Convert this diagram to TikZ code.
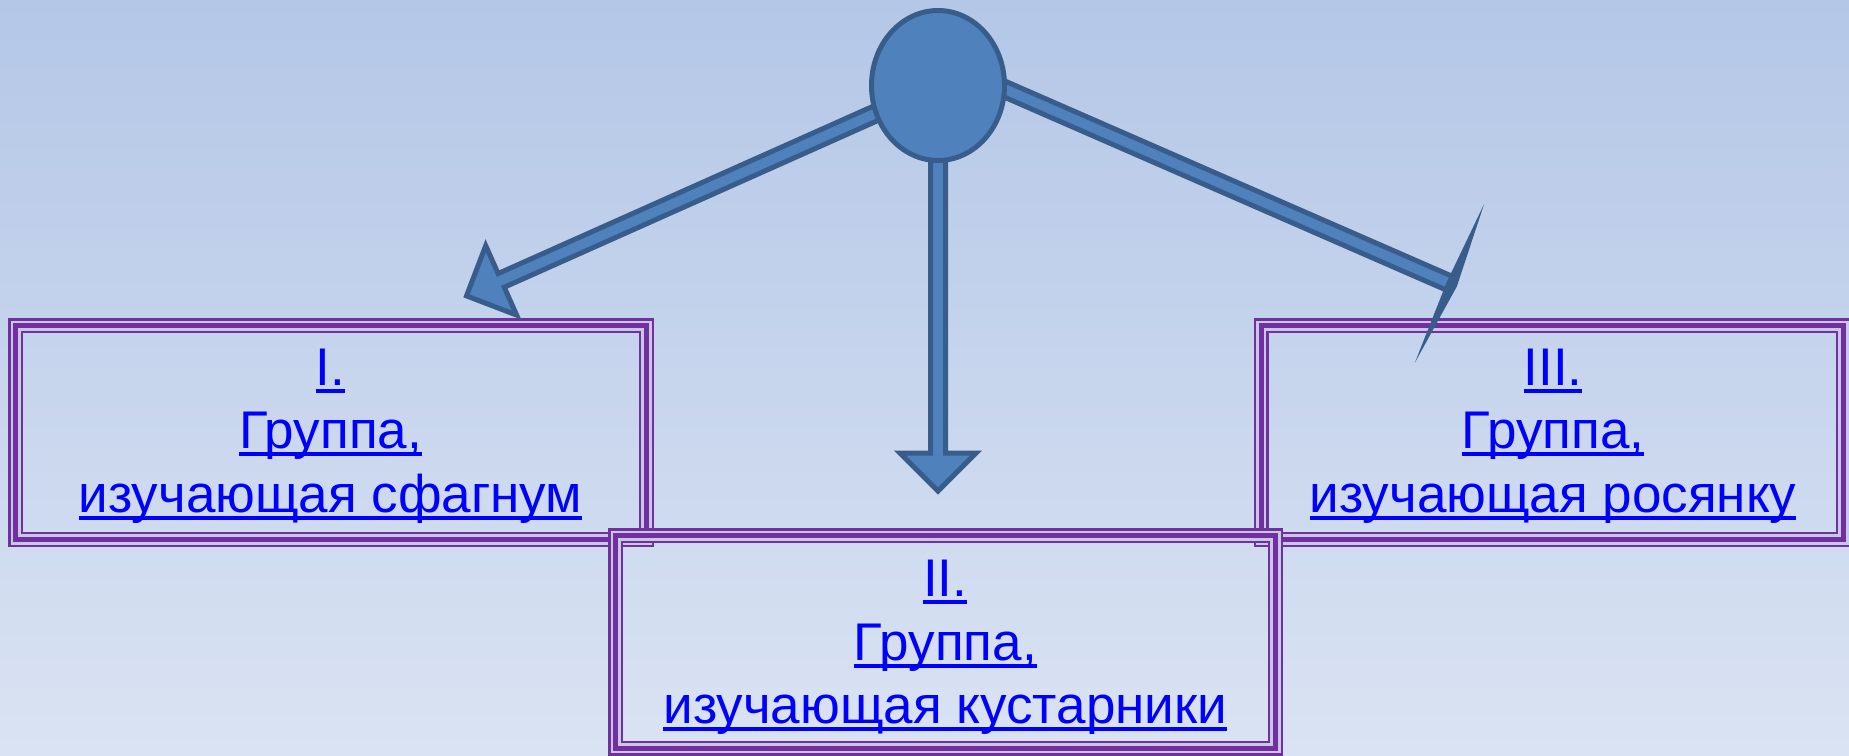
\documentclass[tikz,border=0pt]{standalone}
\usepackage{fontspec}
\setmainfont{Liberation Sans}
\usetikzlibrary{calc,shapes.geometric}
\definecolor{bgtop}{RGB}{180,199,231}
\definecolor{bgbot}{RGB}{218,227,243}
\definecolor{accfill}{RGB}{79,129,189}
\definecolor{accline}{RGB}{56,93,138}
\definecolor{frm}{RGB}{112,48,160}
\definecolor{frmgap}{RGB}{201,198,230}
\definecolor{lnk}{RGB}{0,0,255}
\newcommand\ulx[1]{\setbox0=\hbox{#1}\rlap{\raisebox{-7.5pt}{\rule{\wd0}{3.9pt}}}\box0}
\newcommand\threelines[3]{\vtop{\baselineskip=63.5pt\halign{\hfil##\hfil\cr\ulx{#1}\cr\ulx{#2}\cr\ulx{#3}\cr}}}
\pgfdeclarelayer{bglayer}
\pgfdeclarelayer{boxlayer}
\pgfdeclarelayer{arrlayer}
\pgfsetlayers{bglayer,boxlayer,arrlayer,main}
\tikzset{
  tripleframe/.style={draw=frm, line width=15pt, rectangle, inner sep=0pt, outer sep=0pt,
    postaction={draw=frmgap, line width=2.7pt, double=frm, double distance=5pt}},
  lbl/.style={font=\fontsize{53}{63.5}\selectfont, text=lnk, inner sep=0pt, anchor=base},
  blockarrow/.style={fill=accfill, draw=accline, line width=5pt, line join=miter},
  hub/.style={ellipse, fill=accfill, draw=accline, line width=5pt, inner sep=0pt,
    minimum width=133pt, minimum height=150pt}
}
\begin{document}
\begin{tikzpicture}[x=1pt,y=-1pt]
\useasboundingbox (0,0) rectangle (1849,755);
\begin{pgfonlayer}{bglayer}
\shade[top color=bgtop,bottom color=bgbot] (0,0) rectangle (1849,755);
\end{pgfonlayer}

% hub
\node[hub] (e) at (938,85.5) {};

% boxes
\begin{pgfonlayer}{boxlayer}
\node[tripleframe, minimum width=630.7pt, minimum height=213.7pt] (box1) at (331.2,432.7) {};
\node[tripleframe, minimum width=582.5pt, minimum height=213.7pt] (box3) at (1552.3,432.7) {};
\node[tripleframe, minimum width=659.7pt, minimum height=212.5pt] (box2) at (945.7,642) {};
\end{pgfonlayer}

% texts
\node[lbl] (t1) at (330.5,385) {\threelines{I.}{Группа,}{изучающая сфагнум}};
\node[lbl] (t2) at (945.3,596.7) {\threelines{II.}{Группа,}{изучающая кустарники}};
\node[lbl] (t3) at (1553,385) {\threelines{III.}{Группа,}{изучающая росянку}};

% arrows
\coordinate (tip1) at (466.5,295.9);
\coordinate (tip2) at (938,491);
\coordinate (tail3) at (938,60);
\coordinate (end3) at (1449.5,283.3);
\begin{pgfonlayer}{arrlayer}
\coordinate (b1) at ($(tip1)!38pt!(e.center)$);
\draw[blockarrow] ($(e.center)!7.5pt!90:(tip1)$) -- ($(b1)!7.5pt!90:(tip1)$)
  -- ($(b1)!38pt!90:(tip1)$) -- (tip1) -- ($(b1)!38pt!-90:(tip1)$)
  -- ($(b1)!7.5pt!-90:(tip1)$) -- ($(e.center)!7.5pt!-90:(tip1)$) -- cycle;
\coordinate (b2) at ($(tip2)!38pt!(e.center)$);
\draw[blockarrow] ($(e.center)!7.5pt!90:(tip2)$) -- ($(b2)!7.5pt!90:(tip2)$)
  -- ($(b2)!38pt!90:(tip2)$) -- (tip2) -- ($(b2)!38pt!-90:(tip2)$)
  -- ($(b2)!7.5pt!-90:(tip2)$) -- ($(e.center)!7.5pt!-90:(tip2)$) -- cycle;
\draw[blockarrow] ($(tail3)!7.5pt!90:(end3)$) -- ($(end3)!7.5pt!-90:(tail3)$)
  -- ($(end3)!7.5pt!90:(tail3)$) -- ($(tail3)!7.5pt!-90:(end3)$) -- cycle;
\fill[accline] ($(end3)!86.6pt!90:(tail3)$) -- ($(end3)!-8pt!(tail3)$)
  -- ($(end3)!86.6pt!-90:(tail3)$) -- ($(end3)!3pt!(tail3)$) -- cycle;
\end{pgfonlayer}
\end{tikzpicture}
\end{document}
